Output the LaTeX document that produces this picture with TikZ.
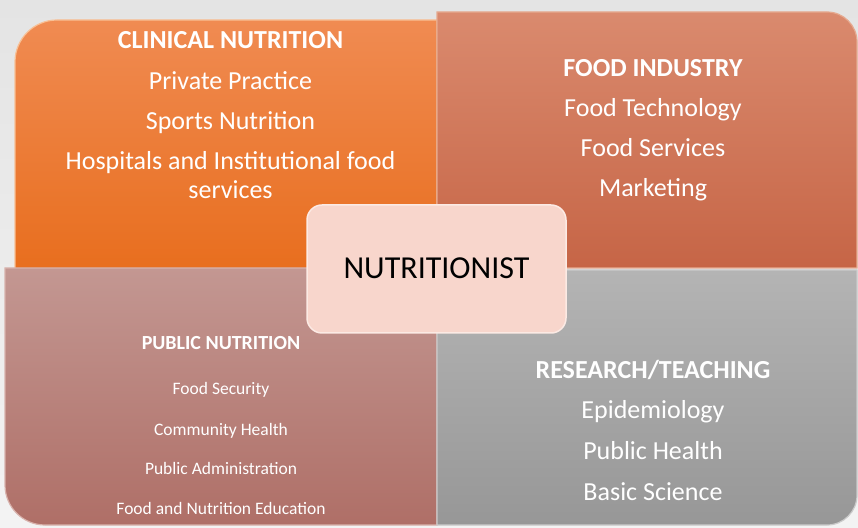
\documentclass[tikz,border=0pt]{standalone}
\usepackage{fontspec}
\setmainfont{Carlito}
\definecolor{bgtop}{HTML}{E4E4E4}
\definecolor{bgbot}{HTML}{F3F3F3}
\definecolor{ortop}{HTML}{F08B52}
\definecolor{orbot}{HTML}{E86E1E}
\definecolor{orline}{HTML}{F8C095}
\definecolor{trtop}{HTML}{DA8A6E}
\definecolor{trbot}{HTML}{C66546}
\definecolor{trline}{HTML}{E6A98F}
\definecolor{bltop}{HTML}{C39792}
\definecolor{blbot}{HTML}{AF6F67}
\definecolor{blline}{HTML}{D8B2AC}
\definecolor{brtop}{HTML}{B4B4B4}
\definecolor{brbot}{HTML}{979797}
\definecolor{brline}{HTML}{CACACA}
\definecolor{ctrfill}{HTML}{F8D6CC}
\definecolor{ctrline}{HTML}{FCEAE4}
\begin{document}
\begin{tikzpicture}[x=1pt,y=1pt,
  quad/.style={line width=1.2pt},
  head/.style={anchor=base,inner sep=0pt,text=white,font=\fontsize{26}{30}\selectfont\bfseries},
  item/.style={anchor=base,inner sep=0pt,text=white,font=\fontsize{26}{30}\selectfont},
  shead/.style={anchor=base,inner sep=0pt,text=white,font=\fontsize{20}{24}\selectfont\bfseries},
  sitem/.style={anchor=base,inner sep=0pt,text=white,font=\fontsize{17.5}{21}\selectfont},
  hub/.style={rounded corners=15pt,minimum width=259pt,minimum height=128pt,fill=ctrfill,draw=ctrline,line width=1.5pt,inner sep=0pt}
]
\useasboundingbox (0,0) rectangle (858,527);
\shade[top color=bgtop,bottom color=bgbot] (0,0) rectangle (858,527);
% top-left orange
\shade[quad,top color=ortop,bottom color=orbot,draw=orline]
  (15,257) -- (15,465) arc[start angle=180,end angle=90,radius=42] -- (437,507) -- (437,257) -- cycle;
% top-right
\shade[quad,top color=trtop,bottom color=trbot,draw=trline]
  (437,259) -- (437,515) -- (827,515) arc[start angle=90,end angle=0,radius=30] -- (857,259) -- cycle;
% bottom-left
\shade[quad,top color=bltop,bottom color=blbot,draw=blline]
  (5,259) -- (437,259) -- (437,2) -- (45,2) arc[start angle=270,end angle=180,radius=40] -- cycle;
% bottom-right
\shade[quad,top color=brtop,bottom color=brbot,draw=brline]
  (437,257) -- (857,257) -- (857,32) arc[start angle=0,end angle=-90,radius=30] -- (437,2) -- cycle;
% centre
\node[hub] (hubbox) at (436.5,258) {};
\node[anchor=base,inner sep=0pt,font=\fontsize{32}{36}\selectfont] (hubtext) at (436.5,248) {NUTRITIONIST};
% clinical nutrition
\node[head] (cnh) at (230.5,478.5) {CLINICAL NUTRITION};
\node[item] (cn1) at (230.5,437.5) {Private Practice};
\node[item] (cn2) at (230.5,397.5) {Sports Nutrition};
\node[item] (cn3) at (230.5,357.5) {Hospitals and Institutional food};
\node[item] (cn4) at (230.5,328.5) {services};
% food industry
\node[head] (fih) at (653,450.5) {FOOD INDUSTRY};
\node[item] (fi1) at (653,410.5) {Food Technology};
\node[item] (fi2) at (653,370.5) {Food Services};
\node[item] (fi3) at (653,330.5) {Marketing};
% public nutrition
\node[shead] (pnh) at (221,177.5) {PUBLIC NUTRITION};
\node[sitem] (pn1) at (221,132.5) {Food Security};
\node[sitem] (pn2) at (221,91.5) {Community Health};
\node[sitem] (pn3) at (221,52.5) {Public Administration};
\node[sitem] (pn4) at (221,12.5) {Food and Nutrition Education};
% research/teaching
\node[head] (rth) at (653,148.5) {RESEARCH/TEACHING};
\node[item] (rt1) at (653,108.5) {Epidemiology};
\node[item] (rt2) at (653,67.5) {Public Health};
\node[item] (rt3) at (653,26.5) {Basic Science};
\end{tikzpicture}
\end{document}
